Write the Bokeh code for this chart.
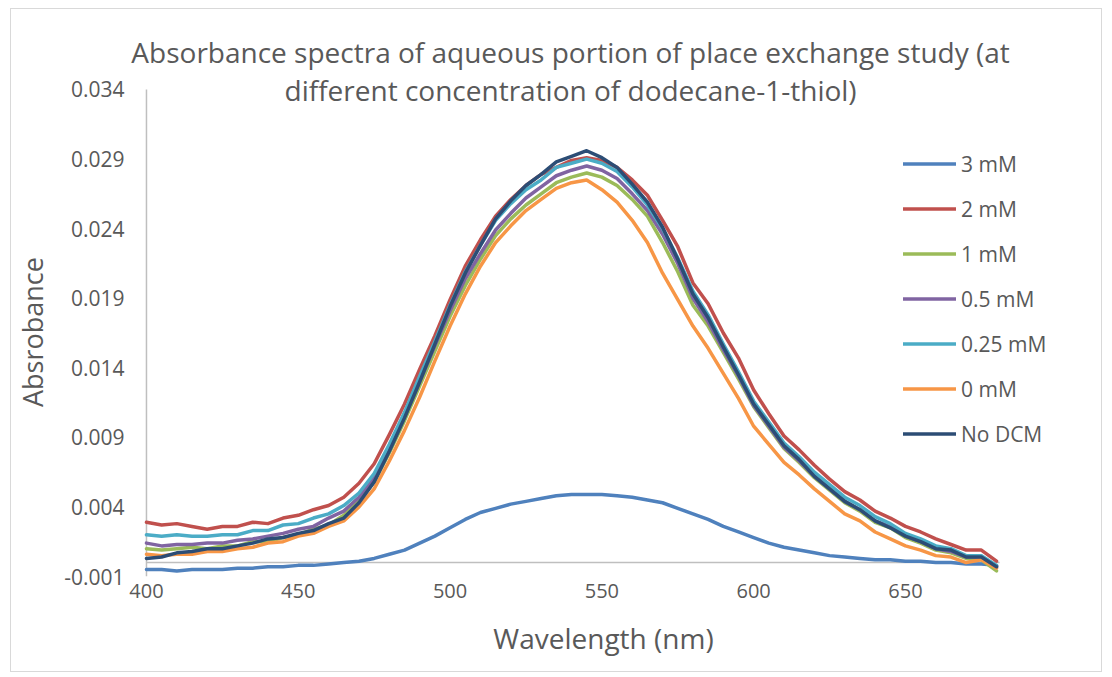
from bokeh.plotting import figure
from bokeh.models import Range1d, FixedTicker, PrintfTickFormatter, Legend, LegendItem, Label
from bokeh.embed import file_html
from bokeh.resources import INLINE

wavelength = list(range(400, 681, 5))

series_names = ["3 mM", "2 mM", "1 mM", "0.5 mM", "0.25 mM", "0 mM", "No DCM"]
colors = ["#4F81BD", "#C0504D", "#9BBB59", "#8064A2", "#4BACC6", "#F79646", "#2C4D75"]

abs_3mM = [-0.0005, -0.0005, -0.0006, -0.0005, -0.0005, -0.0005, -0.0004, -0.0004, -0.0003, -0.0003,
           -0.0002, -0.0002, -0.0001, 0.0000, 0.0001, 0.0003, 0.0006, 0.0009, 0.0014, 0.0019,
           0.0025, 0.0031, 0.0036, 0.0039, 0.0042, 0.0044, 0.0046, 0.0048, 0.0049, 0.0049,
           0.0049, 0.0048, 0.0047, 0.0045, 0.0043, 0.0039, 0.0035, 0.0031, 0.0026, 0.0022,
           0.0018, 0.0014, 0.0011, 0.0009, 0.0007, 0.0005, 0.0004, 0.0003, 0.0002, 0.0002,
           0.0001, 0.0001, 0.0000, 0.0000, -0.0001, -0.0001, -0.0002]
abs_2mM = [0.0029, 0.0027, 0.0028, 0.0026, 0.0024, 0.0026, 0.0026, 0.0029, 0.0028, 0.0032,
           0.0034, 0.0038, 0.0041, 0.0047, 0.0057, 0.0071, 0.0092, 0.0114, 0.0139, 0.0163,
           0.0189, 0.0213, 0.0232, 0.0249, 0.0261, 0.0271, 0.0279, 0.0284, 0.0289, 0.0291,
           0.0289, 0.0284, 0.0275, 0.0264, 0.0246, 0.0227, 0.0201, 0.0186, 0.0165, 0.0147,
           0.0124, 0.0107, 0.0091, 0.0081, 0.0070, 0.0060, 0.0051, 0.0045, 0.0037, 0.0032,
           0.0026, 0.0022, 0.0017, 0.0013, 0.0009, 0.0009, 0.0001]
abs_1mM = [0.0010, 0.0009, 0.0010, 0.0011, 0.0010, 0.0012, 0.0012, 0.0015, 0.0015, 0.0018,
           0.0020, 0.0024, 0.0027, 0.0034, 0.0044, 0.0058, 0.0079, 0.0102, 0.0127, 0.0152,
           0.0177, 0.0199, 0.0218, 0.0235, 0.0247, 0.0257, 0.0265, 0.0273, 0.0277, 0.0280,
           0.0277, 0.0271, 0.0261, 0.0249, 0.0230, 0.0209, 0.0185, 0.0170, 0.0151, 0.0132,
           0.0112, 0.0097, 0.0082, 0.0072, 0.0061, 0.0052, 0.0043, 0.0037, 0.0029, 0.0025,
           0.0018, 0.0014, 0.0009, 0.0007, 0.0003, 0.0002, -0.0006]
abs_05mM = [0.0014, 0.0012, 0.0013, 0.0013, 0.0014, 0.0014, 0.0016, 0.0017, 0.0019, 0.0021,
            0.0024, 0.0026, 0.0032, 0.0037, 0.0047, 0.0061, 0.0082, 0.0105, 0.0130, 0.0156,
            0.0181, 0.0204, 0.0222, 0.0239, 0.0251, 0.0262, 0.0270, 0.0278, 0.0282, 0.0285,
            0.0282, 0.0276, 0.0265, 0.0253, 0.0236, 0.0215, 0.0190, 0.0173, 0.0153, 0.0134,
            0.0113, 0.0098, 0.0083, 0.0073, 0.0062, 0.0053, 0.0044, 0.0038, 0.0030, 0.0026,
            0.0019, 0.0015, 0.0010, 0.0008, 0.0004, 0.0004, -0.0003]
abs_025mM = [0.0020, 0.0019, 0.0020, 0.0019, 0.0019, 0.0020, 0.0020, 0.0023, 0.0023, 0.0027,
             0.0028, 0.0032, 0.0035, 0.0041, 0.0050, 0.0064, 0.0085, 0.0108, 0.0134, 0.0159,
             0.0185, 0.0209, 0.0228, 0.0246, 0.0258, 0.0268, 0.0275, 0.0284, 0.0287, 0.0290,
             0.0287, 0.0281, 0.0270, 0.0257, 0.0240, 0.0219, 0.0195, 0.0178, 0.0157, 0.0137,
             0.0116, 0.0101, 0.0086, 0.0076, 0.0065, 0.0056, 0.0047, 0.0041, 0.0033, 0.0028,
             0.0021, 0.0017, 0.0012, 0.0010, 0.0005, 0.0005, -0.0002]
abs_0mM = [0.0006, 0.0005, 0.0006, 0.0006, 0.0008, 0.0008, 0.0010, 0.0011, 0.0014, 0.0015,
           0.0019, 0.0021, 0.0026, 0.0030, 0.0040, 0.0053, 0.0073, 0.0095, 0.0119, 0.0145,
           0.0170, 0.0193, 0.0213, 0.0230, 0.0242, 0.0253, 0.0261, 0.0269, 0.0273, 0.0275,
           0.0268, 0.0259, 0.0246, 0.0230, 0.0208, 0.0189, 0.0170, 0.0154, 0.0136, 0.0118,
           0.0098, 0.0085, 0.0072, 0.0063, 0.0053, 0.0044, 0.0035, 0.0030, 0.0022, 0.0017,
           0.0012, 0.0009, 0.0005, 0.0004, 0.0000, 0.0002, -0.0004]
abs_noDCM = [0.0003, 0.0004, 0.0007, 0.0008, 0.0010, 0.0010, 0.0012, 0.0014, 0.0017, 0.0018,
             0.0021, 0.0023, 0.0028, 0.0032, 0.0043, 0.0058, 0.0080, 0.0104, 0.0130, 0.0157,
             0.0184, 0.0208, 0.0228, 0.0247, 0.0260, 0.0271, 0.0279, 0.0288, 0.0292, 0.0296,
             0.0291, 0.0284, 0.0272, 0.0259, 0.0241, 0.0218, 0.0193, 0.0176, 0.0155, 0.0135,
             0.0114, 0.0099, 0.0084, 0.0074, 0.0062, 0.0053, 0.0044, 0.0038, 0.0030, 0.0025,
             0.0019, 0.0015, 0.0010, 0.0009, 0.0004, 0.0004, -0.0003]

series_values = [abs_3mM, abs_2mM, abs_1mM, abs_05mM, abs_025mM, abs_0mM, abs_noDCM]

y_ticks = [-0.001, 0.004, 0.009, 0.014, 0.019, 0.024, 0.029, 0.034]
x_ticks = [400, 450, 500, 550, 600, 650]

title_line1 = "Absorbance spectra of aqueous portion of place exchange study (at"
title_line2 = "different concentration of dodecane-1-thiol)"
x_title = "Wavelength (nm)"
y_title = "Absrobance"

FONT = "Open Sans"
TEXT = "#595959"
AXIS = "#bfbfbf"

# plot area of the chart: x 400..681, y -0.001..0.034; the frame is widened so
# the title and legend (drawn inside it) are not clipped
p = figure(width=1092, height=664, output_backend="svg", toolbar_location=None,
           x_range=Range1d(394.08, 707.0), y_range=Range1d(-0.001, 0.038168),
           min_border_left=115, min_border_right=25, min_border_top=22, min_border_bottom=97,
           title=None)
p.margin = (8, 0, 0, 10)
p.styles = {"border": "1px solid #d9d9d9"}

p.xgrid.visible = False
p.ygrid.visible = False
p.outline_line_color = None
p.background_fill_color = "white"
p.border_fill_color = "white"

# axis lines of the plot area: horizontal at y = 0, vertical at x = 400
p.segment(x0=[400], y0=[0], x1=[681], y1=[0], line_color=AXIS, line_width=1.5)
p.segment(x0=[400], y0=[-0.001], x1=[400], y1=[0.034], line_color=AXIS, line_width=1.5)

items = []
for name, col, vals in zip(series_names, colors, series_values):
    r = p.line(wavelength, vals, line_color=col, line_width=3.5, line_join="round", line_cap="round")
    items.append(LegendItem(label=name, renderers=[r]))

legend = Legend(items=items, location=(775, 120), glyph_width=53, glyph_height=45,
                label_height=45, label_standoff=5, spacing=0, padding=0, margin=0,
                border_line_color=None, background_fill_alpha=0,
                label_text_font=FONT, label_text_font_size="21px", label_text_color=TEXT)
p.add_layout(legend)

yax = p.yaxis[0]
yax.ticker = FixedTicker(ticks=y_ticks)
yax.formatter = PrintfTickFormatter(format="%.3f")
yax.axis_line_color = None
yax.major_tick_line_color = None
yax.minor_tick_line_color = None
yax.major_tick_out = 0
yax.major_tick_in = 0
yax.major_label_standoff = 4
yax.major_label_text_font = FONT
yax.major_label_text_font_size = "21px"
yax.major_label_text_color = TEXT
# non-breaking padding keeps the label centred on the plot area (not the taller frame)
yax.axis_label = y_title + "\u00a0" * 8
yax.axis_label_text_font = FONT
yax.axis_label_text_font_size = "27px"
yax.axis_label_text_font_style = "normal"
yax.axis_label_text_color = TEXT
yax.axis_label_standoff = 10

xax = p.xaxis[0]
xax.bounds = (400, 701)
xax.ticker = FixedTicker(ticks=x_ticks)
xax.axis_line_color = None
xax.major_tick_line_color = None
xax.minor_tick_line_color = None
xax.major_tick_out = 0
xax.major_tick_in = 0
xax.major_label_standoff = 7
xax.major_label_text_font = FONT
xax.major_label_text_font_size = "20px"
xax.major_label_text_color = TEXT
xax.axis_label = x_title
xax.axis_label_text_font = FONT
xax.axis_label_text_font_size = "28px"
xax.axis_label_text_font_style = "normal"
xax.axis_label_text_color = TEXT
xax.axis_label_standoff = 18

p.add_layout(Label(x=539.7, y=0.03673, text=title_line1, text_align="center", text_baseline="middle",
                   text_font=FONT, text_font_size="28px", text_color=TEXT))
p.add_layout(Label(x=539.7, y=0.03393, text=title_line2, text_align="center", text_baseline="middle",
                   text_font=FONT, text_font_size="28px", text_color=TEXT))

open("out.html", "w").write(file_html(p, INLINE))
